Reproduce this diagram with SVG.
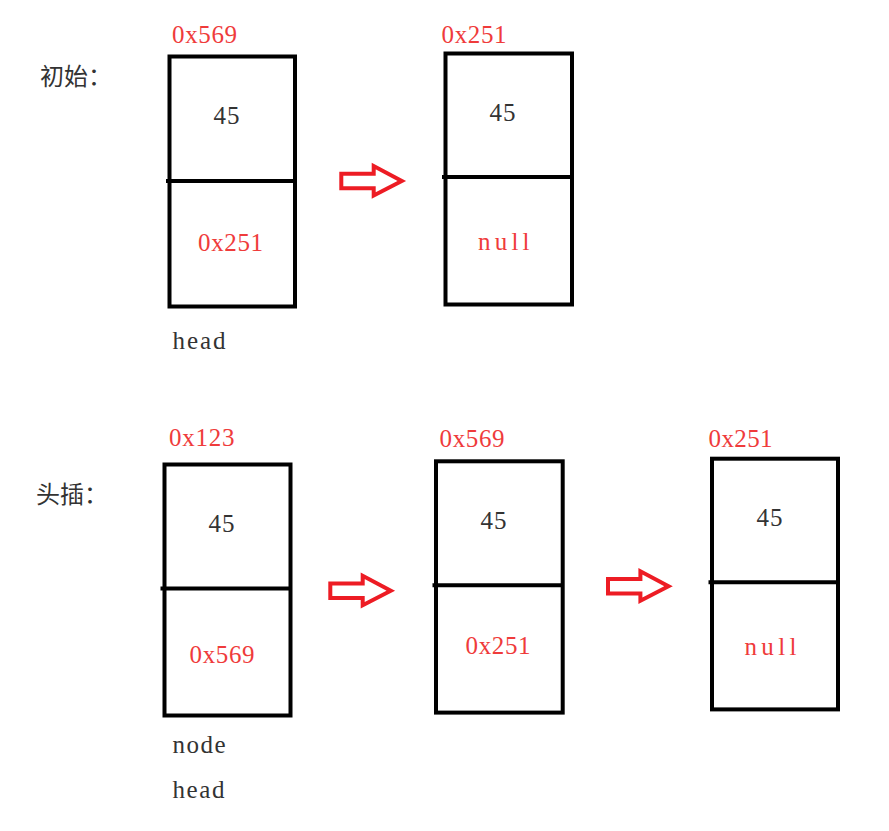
<svg xmlns="http://www.w3.org/2000/svg" xmlns:xlink="http://www.w3.org/1999/xlink" width="889" height="831" viewBox="0 0 889 831">
<style>
.box{fill:none;stroke:#000;stroke-width:4}
.div{stroke:#000;stroke-width:4}
.red{fill:#ef3b3b}
.blk{fill:#333}
.arr{fill:none;stroke:#ed1c24;stroke-width:4;stroke-linejoin:miter}
</style>
<defs>
<path id="arrow" d="M0,-7.3 L32.4,-7.3 L32.4,-15 L60.5,0 L32.4,14.5 L32.4,7.3 L0,7.3 Z"/>
</defs>
<rect width="889" height="831" fill="#fff"/>
<g id="labels" font-family="Noto Sans CJK SC, sans-serif" font-size="24" fill="#333">
<text x="40" y="85">初始：</text>
<text x="36" y="503">头插：</text>
</g>
<g font-family="Liberation Serif, Times New Roman, serif" font-size="25">
<g id="node-top-1">
<text class="red" x="172" y="42.5" textLength="65">0x569</text>
<rect class="box" x="169.5" y="56.5" width="125.5" height="250"/>
<line class="div" x1="166" y1="181" x2="295" y2="181"/>
<text class="blk" x="213.5" y="124" textLength="26">45</text>
<text class="red" x="198" y="250.5" textLength="65">0x251</text>
<text class="blk" x="172.5" y="349" textLength="53">head</text>
</g>
<g id="node-top-2">
<text class="red" x="441.5" y="43.3" textLength="65">0x251</text>
<rect class="box" x="445.5" y="53.5" width="126.5" height="251"/>
<line class="div" x1="442" y1="177" x2="572" y2="177"/>
<text class="blk" x="489.5" y="121" textLength="26">45</text>
<text class="red" x="478" y="250" textLength="51.5">null</text>
</g>
<g id="node-bot-1">
<text class="red" x="169" y="446" textLength="65.5">0x123</text>
<rect class="box" x="164.5" y="464.5" width="126" height="251"/>
<line class="div" x1="160.5" y1="588.5" x2="290.5" y2="588.5"/>
<text class="blk" x="208.5" y="531.5" textLength="26">45</text>
<text class="red" x="189.5" y="662.5" textLength="65">0x569</text>
<text class="blk" x="172.5" y="752.5" textLength="53">node</text>
<text class="blk" x="172.5" y="798" textLength="52">head</text>
</g>
<g id="node-bot-2">
<text class="red" x="439.5" y="447.3" textLength="65">0x569</text>
<rect class="box" x="436" y="461.3" width="126.7" height="251.3"/>
<line class="div" x1="432.5" y1="585.3" x2="562.7" y2="585.3"/>
<text class="blk" x="480.5" y="529.3" textLength="26">45</text>
<text class="red" x="465.5" y="654.3" textLength="65">0x251</text>
</g>
<g id="node-bot-3">
<text class="red" x="708.5" y="447.3" textLength="64">0x251</text>
<rect class="box" x="712" y="458.7" width="126" height="250.7"/>
<line class="div" x1="708.5" y1="582.3" x2="838" y2="582.3"/>
<text class="blk" x="756.5" y="526" textLength="26">45</text>
<text class="red" x="744.5" y="655" textLength="52">null</text>
</g>
</g>
<g id="connectors">
<use xlink:href="#arrow" class="arr" transform="translate(341.3,181)"/>
<use xlink:href="#arrow" class="arr" transform="translate(330.3,590.8)"/>
<use xlink:href="#arrow" class="arr" transform="translate(608,586.3)"/>
</g>
</svg>
